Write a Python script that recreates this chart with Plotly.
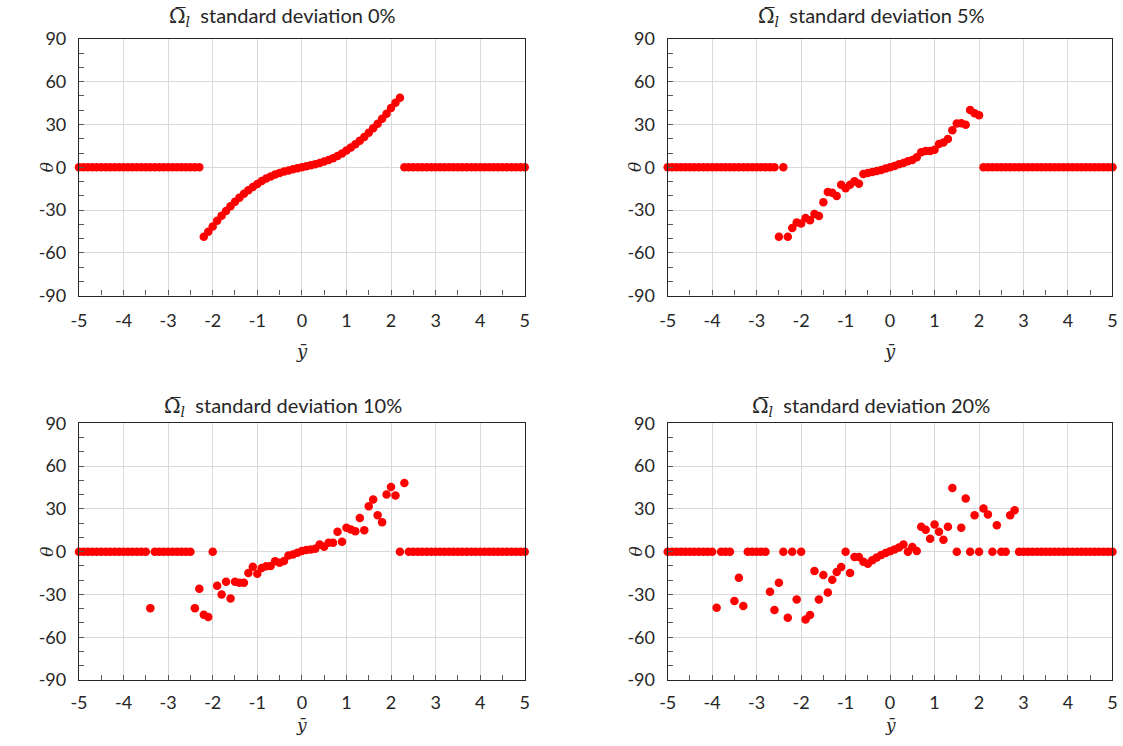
import plotly.graph_objects as go

# x grid: -5.0 .. 5.0 step 0.1 (101 points)
y_bar = [round(-5 + 0.1 * i, 1) for i in range(101)]

theta_sd0 = ([0] * 28 +
             [-48.8, -45.2, -41.5, -37.6, -34.0, -30.6, -27.3, -24.2, -21.3, -18.6, -16.1,
              -13.8, -11.7, -9.7, -7.9, -6.4, -5.1, -4.0, -3.0, -2.2, -1.4, -0.7,
              0.0,
              0.7, 1.4, 2.2, 3.0, 4.0, 5.1, 6.4, 7.9, 9.7, 11.7, 13.8,
              16.1, 18.6, 21.3, 24.2, 27.3, 30.6, 34.0, 37.6, 41.5, 45.2, 48.8] +
             [0] * 28)

theta_sd5 = ([0] * 25 +
             [-48.8, 0, -48.8, -42.6, -38.8, -39.5, -35.6, -37.2, -32.8, -34.2,
              -24.6, -17.4, -17.9, -20.2, -12.3, -14.7, -12.3, -9.8, -11.6, -4.7,
              -4.0, -3.3, -2.6, -1.9, -0.9, 0.0, 0.9, 2.1, 3.0, 4.2,
              5.1, 7.0, 10.5, 11.4, 11.4, 12.3, 16.3, 17.4, 19.8, 26.0,
              30.7, 30.9, 29.8, 40.2, 37.9, 36.5] +
             [0] * 30)

theta_sd10 = ([0] * 16 + [-39.6] + [0] * 9 +
              [-39.6, -26.0, -44.3, -45.9, 0, -23.9, -30.0, -21.1, -32.8, -21.1,
               -21.8, -21.8, -15.0, -10.6, -15.5, -11.5, -10.2, -10.0, -6.7, -7.7,
               -6.6, -2.7, -2.0, -0.8, 0.4, 1.1, 1.5, 2.0, 5.0, 3.4,
               6.2, 6.2, 13.9, 6.9, 16.7, 15.5, 14.4, 23.7, 15.1, 31.9,
               36.6, 25.6, 20.7, 40.1, 45.4, 39.4, 0, 48.2] +
              [0] * 27)

theta_sd20 = ([0] * 11 +
              [-39.3, 0, 0, 0, -34.6, -18.3, -38.1, 0, 0, 0,
               0, 0, -28.1, -40.9, -21.8, 0, -46.3, 0, -33.5, 0,
               -47.5, -44.4, -13.6, -33.5, -16.4, -28.6, -19.7, -14.3, -10.8, 0,
               -15.0, -3.8, -3.8, -7.1, -8.5, -6.0, -4.0, -2.3, -1.0, 0.3,
               1.5, 3.0, 5.0, 0, 3.2, 0.5, 17.4, 15.3, 9.0, 19.0,
               13.9, 8.3, 17.4, 44.7, 0, 16.7, 37.3, 0, 25.6, 0,
               30.3, 26.1, 0, 18.6, 0, 0, 25.6, 29.1] +
              [0] * 22)

series = [theta_sd0, theta_sd5, theta_sd10, theta_sd20]
titles = ["0%", "5%", "10%", "20%"]
x_ticks = [-5, -4, -3, -2, -1, 0, 1, 2, 3, 4, 5]
y_ticks = [-90, -60, -30, 0, 30, 60, 90]

for s in series:
    assert len(s) == 101, len(s)

W, H = 1123, 746
FONT = "Lato"
# the photographed page shows the figure slightly shrunk and offset; compensate
SX, OX, SY, OY = 0.988, 7.0, 0.972, 10.0


def px(x):
    return ((x - OX) / SX) / W


def py(y):
    return 1 - ((y - OY) / SY) / H


# panel boxes in target picture pixels (x0, x1, y_top, y_bottom, title_y)
boxes = [(77, 523, 37, 294, 15), (666, 1111, 37, 294, 15),
         (77, 523, 422, 679, 405), (666, 1111, 422, 679, 405)]

fig = go.Figure()
annotations = []
for i, (s, t, b) in enumerate(zip(series, titles, boxes)):
    n = "" if i == 0 else str(i + 1)
    x0, x1, yt, yb, ty = b
    fig.add_trace(go.Scatter(x=y_bar, y=s, mode="markers",
                             marker=dict(color="#ff0000", size=8.5, line=dict(width=0)),
                             xaxis="x" + n, yaxis="y" + n, showlegend=False,
                             cliponaxis=False))
    fig.layout["xaxis" + n] = dict(
        domain=[px(x0), px(x1)], anchor="y" + n, range=[-5, 5],
        tickvals=x_ticks, ticktext=[str(v) for v in x_ticks],
        showgrid=True, gridcolor="#d9d9d9", gridwidth=1,
        zeroline=False, showline=True, linecolor="#262626", linewidth=1.2, mirror=True,
        ticks="inside", ticklen=5, tickcolor="#595959",
        minor=dict(dtick=0.5, tick0=0, ticks="inside", ticklen=5, tickcolor="#595959", showgrid=False),
        tickfont=dict(family=FONT, size=18, color="#262626"),
        ticklabelstandoff=9 if i < 2 else 6,
    )
    fig.layout["yaxis" + n] = dict(
        domain=[py(yb), py(yt)], anchor="x" + n, range=[-90, 90],
        tickvals=y_ticks, ticktext=[str(v) for v in y_ticks],
        showgrid=True, gridcolor="#d9d9d9", gridwidth=1,
        zeroline=False, showline=True, linecolor="#262626", linewidth=1.2, mirror=True,
        ticks="inside", ticklen=5, tickcolor="#595959",
        minor=dict(dtick=10, tick0=0, ticks="inside", ticklen=5, tickcolor="#595959", showgrid=False),
        tickfont=dict(family=FONT, size=18, color="#262626"), ticklabelstandoff=8,
    )
    cx = (x0 + x1) / 2
    annotations.append(dict(
        text=("<span style='font-family:DejaVu Serif'>Ω\u0305<sub><i>l</i></sub></span>"
              "  standard deviation " + t),
        x=px(cx - 19), y=py(ty), xref="paper", yref="paper",
        xanchor="center", yanchor="middle", showarrow=False,
        font=dict(family=FONT, size=20, color="#262626")))
    if i < 2:
        ytitle = dict(y=py(yb + 56), yanchor="middle")
        ysize = 18
    else:
        ytitle = dict(y=0.0, yanchor="bottom")
        ysize = 17
    annotations.append(dict(
        text="<i>ȳ</i>", x=px(cx), xref="paper", yref="paper",
        xanchor="center", showarrow=False, borderpad=0,
        font=dict(family="DejaVu Serif", size=ysize, color="#262626"), **ytitle))
    annotations.append(dict(
        text="<i>θ</i>", x=px(x0 - 32), y=py((yt + yb) / 2), xref="paper", yref="paper",
        xanchor="center", yanchor="middle", showarrow=False, textangle=-90,
        font=dict(family="DejaVu Serif", size=17, color="#262626")))

fig.update_layout(width=W, height=H, margin=dict(l=0, r=0, t=0, b=0),
                  paper_bgcolor="white", plot_bgcolor="white",
                  annotations=annotations, font=dict(family=FONT))
fig.write_html("out.html")
